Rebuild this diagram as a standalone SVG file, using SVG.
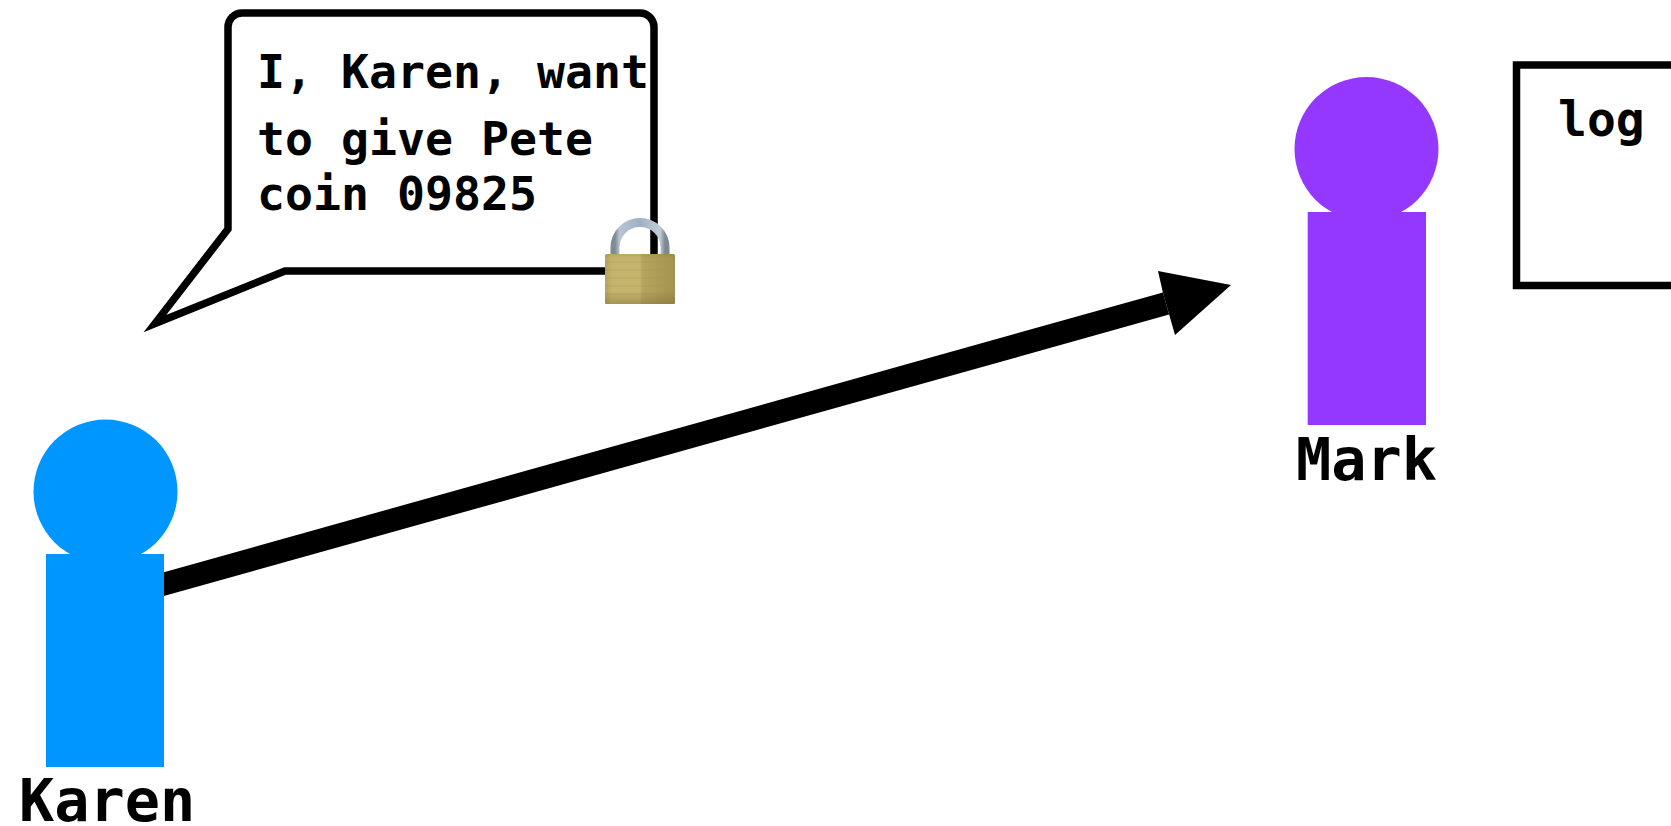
<svg xmlns="http://www.w3.org/2000/svg" width="1671" height="826" viewBox="0 0 1671 826">
<style>
text{font-family:"DejaVu Sans Mono","Liberation Mono",monospace;font-weight:bold;fill:#000}
.t{font-size:46.5px}
.l{font-size:48px}
.n{font-size:58.500px}
.o{fill:none;stroke:#000;stroke-width:7.500}
</style>
<defs>
<linearGradient id="shackle" x1="0" y1="0" x2="1" y2="0">
<stop offset="0" stop-color="#7f8a94"/><stop offset=".09" stop-color="#b9c4d0"/><stop offset=".5" stop-color="#9fb0c4"/><stop offset=".9" stop-color="#c2ccd6"/><stop offset="1" stop-color="#7d8892"/>
</linearGradient>
<linearGradient id="brass" x1="0" y1="0" x2="1" y2="0">
<stop offset="0" stop-color="#b3a35c"/><stop offset=".1" stop-color="#c4b46c"/><stop offset=".5" stop-color="#c4b56e"/><stop offset=".53" stop-color="#b5a55e"/><stop offset="1" stop-color="#a39350"/>
</linearGradient>
<linearGradient id="shade" x1="0" y1="0" x2="0" y2="1">
<stop offset="0" stop-color="#6f6430" stop-opacity=".15"/><stop offset=".1" stop-color="#6f6430" stop-opacity="0"/><stop offset=".75" stop-color="#6f6430" stop-opacity="0"/><stop offset="1" stop-color="#6f6430" stop-opacity=".4"/>
</linearGradient>
</defs>
<rect width="1671" height="826" fill="#fff"/>
<g id="connectors">
<path d="M150 588 L1166 303.500" fill="none" stroke="#000" stroke-width="23"/>
<polygon points="1158,271 1231,285 1175,335 1169,314 1163,293"/>
</g>
<g id="karen">
<circle cx="105.500" cy="491.500" r="72" fill="#0096ff"/>
<rect x="46" y="554" width="118" height="213" fill="#0096ff"/>
<text class="n" x="19" y="821">Karen</text>
</g>
<g id="mark">
<circle cx="1366.500" cy="149" r="72" fill="#9437ff"/>
<rect x="1307.700" y="212" width="118.300" height="213" fill="#9437ff"/>
<text class="n" x="1296" y="480">Mark</text>
</g>
<g id="bubble">
<path class="o" d="M242 13 H640 A14 14 0 0 1 654 27 V271 H285 L155 323.500 L228 229 V27 A14 14 0 0 1 242 13 Z" stroke-miterlimit="10"/>
<text class="t" x="257" y="88">I, Karen, want</text>
<text class="t" x="257" y="155">to give Pete</text>
<text class="t" x="257" y="210">coin 09825</text>
</g>
<g id="lock">
<path d="M615 256 V247.500 A25 25 0 0 1 665 247.500 V256" fill="none" stroke="url(#shackle)" stroke-width="9"/>
<rect x="605" y="254" width="70" height="50" rx="1.500" fill="url(#brass)"/>
<path d="M605 262H675M605 270H675M605 278H675M605 286H675M605 294H675" stroke="#a6964f" stroke-width="1" opacity=".45"/>
<rect x="605" y="254" width="70" height="50" rx="1.500" fill="url(#shade)"/>
</g>
<g id="log">
<path class="o" d="M1671 65 H1516.500 V285.500 H1671"/>
<text class="l" x="1558" y="136">log</text>
</g>
</svg>
